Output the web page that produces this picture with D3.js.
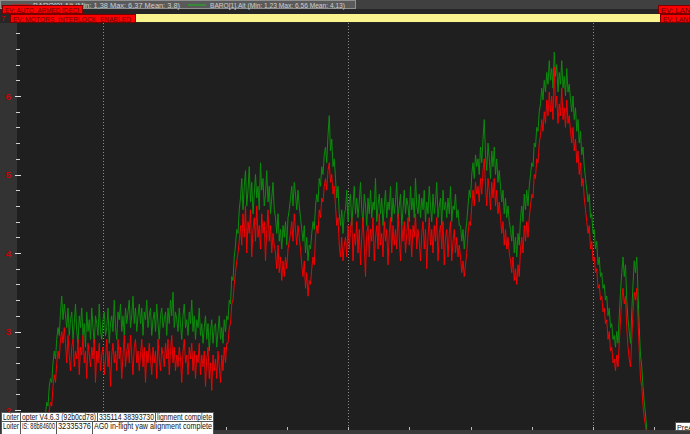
<!DOCTYPE html>
<html><head><meta charset="utf-8">
<script src="https://cdn.jsdelivr.net/npm/d3@7"></script>
<style>
body{margin:0;background:#2b2b2b;overflow:hidden}
svg{display:block}
text{font-family:"Liberation Sans",Arial,sans-serif}
</style>
</head><body>
<svg id="c" width="690" height="434"></svg>
<script>
// ---- data (altitude, m; one value per log sample) ----
const legendLabels = ["BARO[0].Alt (Min: 1,38 Max: 6,37 Mean: 3,8)", "BARO[1].Alt (Min: 1,23 Max: 6,56 Mean: 4,13)"];
const baro1 = [
1.3,1.4,1.55,1.65,1.8,1.75,1.95,2.1,2.05,2.3,
2.4,2.35,2.6,2.75,2.65,2.9,3.05,2.95,3.25,3.45,3.15,3.35,
3.2,3.05,3.3,2.95,3.15,3.25,2.9,3.1,3.35,3.0,
2.85,3.2,3.05,3.3,2.95,3.1,2.8,3.25,3.0,3.15,
2.9,3.3,3.05,2.85,3.2,3.1,2.95,3.35,3.0,2.9,
3.15,3.25,2.95,3.05,3.3,2.85,3.1,3.2,3.0,3.4,
3.05,2.9,3.25,3.15,3.35,3.0,3.2,2.95,3.3,3.1,
3.25,3.4,3.05,3.2,3.45,3.1,3.3,3.0,3.2,3.35,
3.1,3.3,2.95,3.25,3.15,3.4,3.05,3.2,3.3,2.95,
3.15,3.25,3.0,3.35,3.1,2.9,3.2,3.3,3.05,3.15,
3.25,2.95,3.3,3.1,3.4,3.2,3.5,3.05,3.25,3.15,
3.0,3.3,3.1,2.9,3.2,3.35,3.05,3.15,2.95,3.25,
3.1,3.4,3.0,3.2,2.9,3.15,3.05,3.3,2.95,3.1,
2.85,3.05,3.2,2.9,3.1,2.75,3.0,3.15,2.85,3.05,
3.1,2.8,3.0,3.2,2.9,3.05,2.85,3.15,3.0,3.2,
3.15,3.4,3.35,3.7,3.65,3.95,4.1,4.3,4.25,4.55,
4.7,4.95,4.55,4.85,5.05,4.6,4.8,5.1,4.65,4.9,4.5,4.75,5.0,4.7,
4.85,4.55,5.15,4.8,4.95,4.6,4.75,5.05,4.65,4.85,4.5,4.7,4.9,4.55,
4.45,4.25,4.5,4.15,4.3,4.05,4.35,4.2,4.4,4.1,4.45,4.55,
4.7,4.85,4.6,4.9,4.75,4.55,4.8,4.6,
4.45,4.3,4.15,4.35,4.0,4.2,3.9,4.1,4.05,4.25,
4.4,4.3,4.6,4.75,4.65,4.95,4.85,5.1,5.0,5.25,
5.35,5.15,5.5,5.75,5.3,5.45,5.1,5.2,
4.95,4.7,4.85,4.5,4.35,4.55,4.25,4.5,
4.55,4.8,4.4,4.65,4.75,4.35,4.6,4.85,4.5,4.7,
4.45,4.65,4.9,4.55,4.4,4.75,4.6,4.35,4.7,4.5,
4.8,4.45,4.65,4.55,4.95,4.4,4.6,4.75,4.5,4.7,
4.35,4.6,4.8,4.45,4.65,4.55,4.85,4.4,4.7,4.5,
4.65,4.9,4.45,4.6,4.75,4.35,4.55,4.8,4.5,4.7,
4.6,4.4,4.85,4.55,4.7,4.45,4.95,4.6,4.5,4.75,
4.45,4.7,4.55,4.8,4.4,4.65,4.5,4.85,4.6,4.4,
4.75,4.5,4.65,4.9,4.45,4.6,4.7,4.35,4.8,4.55,
4.65,4.45,4.7,4.5,4.85,4.4,4.6,4.55,4.75,4.45,
4.55,4.35,
4.35,4.15,4.3,4.05,4.25,4.4,
4.6,4.8,4.7,5.0,5.15,4.95,5.25,5.1,
5.2,5.0,5.35,5.15,5.45,5.7,5.25,5.05,5.4,5.2,4.95,5.3,5.1,5.35,5.0,5.2,4.9,5.05,
4.85,4.65,4.8,4.5,4.7,4.45,4.6,4.4,
4.3,4.15,4.35,4.0,4.2,3.95,4.25,4.1,
4.45,4.6,4.4,4.75,4.55,4.8,4.6,4.85,
5.0,5.15,5.1,5.4,5.35,5.6,5.55,5.8,
5.9,6.1,5.95,6.2,6.05,6.3,6.15,6.45,6.2,6.35,6.1,6.56,
6.25,6.4,6.05,6.3,6.15,6.45,6.1,6.25,6.0,6.35,6.05,6.15,
5.95,5.8,6.0,5.7,5.85,5.55,5.7,5.4,5.55,5.25,5.35,5.1,
4.95,4.8,4.65,4.75,4.45,4.5,4.25,4.3,
4.05,4.15,3.85,3.95,3.7,
3.75,3.55,3.6,3.4,3.45,
3.2,3.3,3.05,3.1,2.9,
2.95,2.8,3.0,2.85,3.2,
3.5,3.75,3.95,3.7,3.85,
3.4,3.15,3.0,2.85,3.25,
3.6,3.9,3.75,3.95,3.5,
3.05,2.7,2.55,2.3,2.1,
1.95,1.75,1.6,1.45,1.23
];
const baro0 = [
1.4,1.45,1.5,1.6,1.7,1.65,1.8,1.9,1.85,2.0,
2.1,2.05,2.3,2.45,2.35,2.6,2.75,2.65,2.9,3.0,2.85,3.05,
2.85,2.6,2.95,2.7,2.5,2.8,2.9,2.55,2.75,2.65,
2.9,2.45,2.8,2.7,2.95,2.6,2.75,2.4,2.85,2.7,
2.55,2.8,2.65,2.9,2.35,2.75,2.6,2.85,2.5,2.7,
2.8,2.45,2.65,2.9,2.55,2.75,2.3,2.7,2.85,2.6,
2.75,2.5,2.9,2.65,2.8,2.4,2.7,2.95,2.55,2.75,
2.85,2.6,2.95,2.7,2.45,2.8,2.9,2.6,2.75,2.5,
2.7,2.9,2.55,2.8,2.35,2.75,2.6,2.85,2.65,2.45,
2.8,2.6,2.75,2.4,2.9,2.65,2.5,2.8,2.7,2.55,
2.85,2.65,2.9,2.45,2.75,2.95,2.6,2.8,2.5,2.7,
2.55,2.8,2.65,2.35,2.75,2.9,2.6,2.7,2.45,2.8,
2.65,2.85,2.5,2.75,2.4,2.7,2.6,2.85,2.45,2.7,
2.55,2.75,2.3,2.65,2.8,2.4,2.6,2.25,2.7,2.5,
2.65,2.4,2.75,2.55,2.35,2.7,2.5,2.8,2.6,2.85,
2.85,3.05,3.1,3.35,3.4,3.6,3.75,3.9,4.0,4.15,
4.35,4.1,4.5,4.2,4.6,4.0,4.4,4.25,4.55,3.95,4.3,4.45,4.15,4.6,
4.2,4.35,4.05,4.5,4.25,4.4,3.9,4.3,4.55,4.15,4.35,4.0,4.25,4.1,
4.0,3.8,4.1,3.75,3.95,3.65,3.9,3.7,3.95,3.8,4.05,4.15,
4.25,4.4,4.15,4.5,4.3,4.1,4.35,4.2,
4.05,3.85,3.7,3.9,3.55,3.75,3.45,3.65,3.6,3.8,
3.95,3.85,4.2,4.35,4.25,4.55,4.45,4.7,4.65,4.85,
4.95,4.8,5.05,5.15,4.9,5.0,4.75,4.85,
4.6,4.35,4.45,4.1,3.95,4.2,3.9,4.1,
4.2,3.95,4.35,4.05,4.3,4.45,3.9,4.25,4.1,4.4,
4.0,4.3,3.85,4.2,4.45,4.1,3.7,4.25,4.35,3.95,
4.3,4.15,4.45,3.9,4.2,4.35,4.05,4.5,4.1,4.25,
3.95,4.4,4.15,4.3,3.85,4.25,4.45,4.0,4.35,4.1,
4.3,4.05,4.5,4.2,3.9,4.35,4.15,4.4,4.0,4.25,
4.45,4.1,4.3,3.95,4.35,4.2,4.5,4.05,4.3,4.15,
3.9,4.25,4.4,4.05,4.3,3.8,4.2,4.45,4.1,4.3,
4.0,4.35,4.15,4.45,3.9,4.25,4.35,4.05,4.4,3.85,
4.2,4.3,3.95,4.25,4.4,3.9,4.15,4.3,4.0,4.2,
3.95,4.1,
3.95,3.75,3.9,3.7,3.85,4.0,
4.25,4.4,4.35,4.6,4.8,4.6,4.9,4.75,
4.85,4.65,4.95,4.75,5.05,5.2,4.85,4.6,4.95,4.8,4.55,4.9,4.7,4.95,4.6,4.8,4.5,4.65,
4.45,4.25,4.4,4.1,4.3,4.05,4.2,4.0,
3.9,3.75,3.95,3.65,3.8,3.6,3.85,3.7,
4.05,4.2,4.0,4.35,4.15,4.4,4.2,4.45,
4.6,4.75,4.7,5.0,4.95,5.2,5.15,5.4,
5.5,5.7,5.55,5.8,5.65,5.95,5.75,6.05,5.8,6.0,5.7,6.37,
5.85,6.0,5.65,5.9,5.75,6.1,5.7,5.85,5.6,5.95,5.65,5.75,
5.55,5.4,5.6,5.3,5.45,5.15,5.3,5.0,5.15,4.85,4.95,4.7,
4.55,4.4,4.25,4.35,4.05,4.15,3.9,3.95,
3.75,3.8,3.55,3.6,3.4,
3.45,3.25,3.3,3.1,3.15,
2.9,3.0,2.75,2.8,2.6,
2.65,2.5,2.7,2.55,2.85,
3.15,3.4,3.55,3.35,3.45,
3.05,2.8,2.65,2.55,2.9,
3.25,3.5,3.4,3.55,3.15,
2.75,2.4,2.3,2.05,1.9,
1.8,1.65,1.55,1.45,1.38
];
const yMajorTicks = [2, 3, 4, 5, 6];
const majorGridSamples = [52, 248, 444];
const minorTickStep = 49;
const events = ["EV: AUTO_ARMED [DEC]", "EV: MOTORS_INTERLOCK_ENABLED"];
const endEvents = ["EV: LANDED", "EV: LAND_COMPLETE"];
const msgRow1 = ["Loiter", "opter V4.6.3 (92b0cd78)", "335114 38393730", "lignment complete"];
const msgRow2 = ["Loiter", "IS: 88b84600", "32335376", "AG0 in-flight yaw alignment complete"];

// ---- layout ----
const W = 690, H = 434;
const plotL = 17, plotT = 23, plotB = 430;
const svg = d3.select("#c");

svg.append("rect").attr("width", W).attr("height", H).attr("fill", "#2b2b2b");
svg.append("rect").attr("x", 0).attr("y", plotT).attr("width", plotL).attr("height", plotB - plotT).attr("fill", "#333333");
svg.append("rect").attr("x", plotL).attr("y", plotT).attr("width", W - plotL).attr("height", plotB - plotT).attr("fill", "#1f1f1f");
svg.append("rect").attr("x", 0).attr("y", plotB).attr("width", W).attr("height", H - plotB).attr("fill", "#3a3a3a");
svg.append("rect").attr("x", 0).attr("y", 0).attr("width", W).attr("height", 9).attr("fill", "#404040");
svg.append("rect").attr("x", 0).attr("y", 9).attr("width", W).attr("height", plotT - 9).attr("fill", "#262626");

const x = d3.scaleLinear().domain([0, baro1.length - 1]).range([38, 650.5]);
const x0s = d3.scaleLinear().domain([0, baro0.length - 1]).range([38, 650.5]);
const y = d3.scaleLinear().domain([2, 6]).range([410, 96]);

// grid lines (dotted)
svg.append("g").selectAll("line").data(majorGridSamples).join("line")
  .attr("x1", d => Math.round(x(d)) + 0.5).attr("x2", d => Math.round(x(d)) + 0.5)
  .attr("y1", plotT).attr("y2", plotB)
  .attr("stroke", "#8a8a8a").attr("stroke-width", 1).attr("stroke-dasharray", "1,2");

// x axis minor ticks
const minorX = d3.range(majorGridSamples[0] - minorTickStep, baro1.length + 20, minorTickStep);
svg.append("g").selectAll("line").data(minorX).join("line")
  .attr("x1", d => Math.round(x(d)) + 0.5).attr("x2", d => Math.round(x(d)) + 0.5)
  .attr("y1", plotB - 3).attr("y2", plotB)
  .attr("stroke", "#bbbbbb").attr("stroke-width", 1);

// clip
svg.append("clipPath").attr("id", "pc").append("rect")
  .attr("x", plotL).attr("y", plotT).attr("width", W - plotL).attr("height", plotB - plotT);

const g = svg.append("g").attr("clip-path", "url(#pc)");
g.append("path").datum(baro1)
  .attr("d", d3.line().x((d, i) => x(i)).y(d => y(d)))
  .attr("fill", "none").attr("stroke", "#0c8c0c").attr("stroke-width", 1);
g.append("path").datum(baro0)
  .attr("d", d3.line().x((d, i) => x0s(i)).y(d => y(d)))
  .attr("fill", "none").attr("stroke", "#ff0000").attr("stroke-width", 1).attr("stroke-opacity", 0.92);

// y axis
const minorY = d3.range(1.8, 6.85, 0.2);
svg.append("g").selectAll("line").data(minorY).join("line")
  .attr("x1", plotL - 1).attr("x2", plotL + 3)
  .attr("y1", d => Math.round(y(d)) + 0.5).attr("y2", d => Math.round(y(d)) + 0.5)
  .attr("stroke", "#d0d0d0");
svg.append("g").selectAll("line").data(yMajorTicks).join("line")
  .attr("x1", plotL - 2).attr("x2", plotL + 4)
  .attr("y1", d => Math.round(y(d)) + 0.5).attr("y2", d => Math.round(y(d)) + 0.5)
  .attr("stroke", "#e0e0e0");
svg.append("g").selectAll("text").data(yMajorTicks).join("text")
  .attr("x", 11).attr("y", d => y(d) + 3.5).attr("text-anchor", "end")
  .attr("font-size", 9.5).attr("font-weight", "bold").attr("fill", "#d00000").text(d => d);

// fitted text helper
function ftext(xp, yp, txt, len, size, fill) {
  return svg.append("text").attr("x", xp).attr("y", yp).attr("font-size", size).attr("fill", fill)
    .attr("textLength", len).attr("lengthAdjust", "spacingAndGlyphs").text(txt);
}

// legend
svg.append("rect").attr("x", 0.5).attr("y", 0.5).attr("width", 355).attr("height", 8)
  .attr("fill", "#5a5a5a").attr("stroke", "#909090");
svg.append("line").attr("x1", 12).attr("x2", 30).attr("y1", 5).attr("y2", 5).attr("stroke", "#ff0000");
ftext(33, 7.5, legendLabels[0], 147, 8, "#cfcfcf");
svg.append("line").attr("x1", 188).attr("x2", 206).attr("y1", 5).attr("y2", 5).attr("stroke", "#2f9a2f").attr("stroke-width", 1.5);
ftext(210, 7.5, legendLabels[1], 135, 8, "#cfcfcf");

// yellow event bar
svg.append("rect").attr("x", 135).attr("y", 14).attr("width", 525).attr("height", 8).attr("fill", "#fbf38e");

// event labels
function redLabel(xp, yp, w, txt, tl) {
  svg.append("rect").attr("x", xp + 0.5).attr("y", yp + 0.5).attr("width", w).attr("height", 8)
    .attr("fill", "#ff0000").attr("stroke", "#7a0000");
  ftext(xp + 3, yp + 7.5, txt, tl, 8, "#6a0000");
}
redLabel(2, 5, 80, events[0], 74);
redLabel(10, 14, 125, events[1], 118);
svg.append("text").attr("x", 1).attr("y", 21).attr("font-size", 8).attr("fill", "#d00000").text("7");
redLabel(658, 5, 40, endEvents[0], 46);
redLabel(660, 14, 40, endEvents[1], 70);

// message boxes
function msgRow(items, xs, yp, h) {
  items.forEach((t, i) => {
    const a = xs[i], b = xs[i + 1];
    svg.append("rect").attr("x", a + 0.5).attr("y", yp + 0.5).attr("width", b - a).attr("height", h)
      .attr("fill", "#ffffff").attr("stroke", "#555555");
    ftext(a + 2, yp + 8, t, b - a - 3, 8.5, "#111");
  });
}
msgRow(msgRow2, [1, 20, 56, 92, 213], 421, 13);
msgRow(msgRow1, [1, 20, 97, 155, 213], 412, 9);
svg.append("rect").attr("x", 675.5).attr("y", 422.5).attr("width", 16).attr("height", 8)
  .attr("fill", "#ffffff").attr("stroke", "#555");
ftext(677, 429.5, "PreA", 16, 8, "#111");
</script>
</body></html>
